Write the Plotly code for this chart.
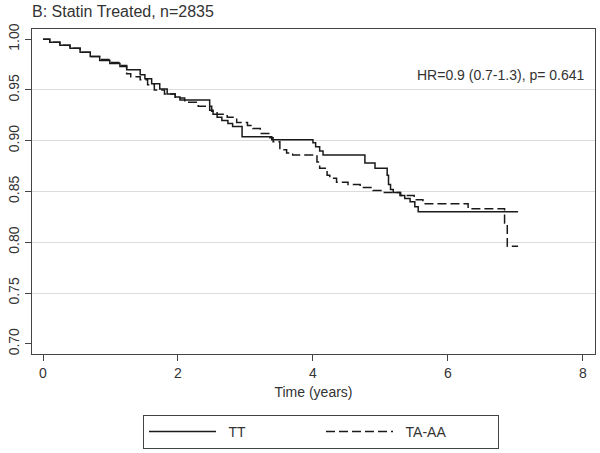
import plotly.graph_objects as go

# Kaplan-Meier step data
tt_time = [0, 0.10, 0.25, 0.40, 0.55, 0.70, 0.84, 0.99, 1.14, 1.24, 1.44, 1.51, 1.61, 1.73, 1.84, 1.96, 2.03,
           2.47, 2.52, 2.58, 2.65, 2.74, 2.81, 2.95, 3.39, 4.00, 4.04, 4.10, 4.15, 4.77, 4.92,
           5.10, 5.12, 5.15, 5.19, 5.29, 5.36, 5.44, 5.51, 5.56, 7.04]
tt_surv = [1.000, 0.997, 0.994, 0.991, 0.987, 0.983, 0.979, 0.976, 0.973, 0.970, 0.965, 0.961, 0.956, 0.951, 0.946, 0.943, 0.940,
           0.930, 0.926, 0.923, 0.920, 0.917, 0.914, 0.904, 0.901, 0.898, 0.894, 0.890, 0.886, 0.878, 0.873,
           0.866, 0.857, 0.852, 0.849, 0.846, 0.843, 0.840, 0.835, 0.830, 0.830]

ta_time = [0, 0.10, 0.25, 0.40, 0.55, 0.70, 0.84, 0.99, 1.14, 1.24, 1.30, 1.44, 1.55, 1.65, 1.80, 1.96, 2.10,
           2.30, 2.50, 2.58, 2.73, 2.87, 3.03, 3.11, 3.22, 3.36, 3.41, 3.51, 3.61, 3.70, 4.06, 4.10,
           4.21, 4.25, 4.35, 4.52, 4.70, 4.89, 5.04, 5.30, 5.50, 5.63, 6.30, 6.84, 6.88, 7.04]
ta_surv = [1.000, 0.997, 0.994, 0.991, 0.987, 0.983, 0.980, 0.977, 0.974, 0.966, 0.963, 0.960, 0.955, 0.950, 0.946, 0.942, 0.938,
           0.934, 0.929, 0.926, 0.923, 0.918, 0.915, 0.912, 0.907, 0.903, 0.899, 0.891, 0.888, 0.886, 0.879, 0.873,
           0.866, 0.863, 0.859, 0.857, 0.854, 0.851, 0.849, 0.846, 0.842, 0.838, 0.833, 0.819, 0.796, 0.796]

x_ticks = [0, 2, 4, 6, 8]
y_ticks = [0.70, 0.75, 0.80, 0.85, 0.90, 0.95, 1.00]
y_grid = [0.75, 0.80, 0.85, 0.90, 0.95]

title_text = "B: Statin Treated, n=2835"
hr_text = "HR=0.9 (0.7-1.3), p= 0.641"
series_names = ["TT", "TA-AA"]

FONT = "Liberation Sans, Arial, sans-serif"
AX = "#444444"
TXT = "#333333"

fig = go.Figure()
fig.add_trace(go.Scatter(x=tt_time, y=tt_surv, mode="lines", name="  " + series_names[0], line_shape="hv",
                         line=dict(color="#1a1a1a", width=1.5)))
fig.add_trace(go.Scatter(x=ta_time, y=ta_surv, mode="lines", name="  " + series_names[1], line_shape="hv",
                         line=dict(color="#1a1a1a", width=1.5, dash="9px,4px")))
# invisible trace on overlay axis for gridlines
fig.add_trace(go.Scatter(x=[None], y=[None], yaxis="y2", showlegend=False, hoverinfo="skip"))

fig.update_layout(
    width=600, height=453,
    margin=dict(l=32, r=5, t=29, b=99),
    paper_bgcolor="white", plot_bgcolor="white",
    font=dict(family=FONT, size=14, color=TXT),
    xaxis=dict(range=[-0.163, 8.18], tickvals=x_ticks, ticktext=[str(v) for v in x_ticks],
               showgrid=False, zeroline=False, showline=True, linecolor=AX, linewidth=1.2,
               mirror=True, ticks="outside", ticklen=6, tickcolor=AX, automargin=False,
               title=dict(text="Time (years)", standoff=7, font=dict(size=14))),
    yaxis=dict(range=[0.690, 1.010], tickvals=y_ticks, ticktext=[f"{v:.2f}" for v in y_ticks],
               tickangle=-90, showgrid=False, zeroline=False, showline=True, linecolor=AX,
               linewidth=1.2, mirror=True, ticks="outside", ticklen=6, tickcolor=AX, automargin=False),
    yaxis2=dict(overlaying="y", matches="y", tickvals=y_grid, showgrid=True, gridcolor="#dcdcdc",
                gridwidth=1, showticklabels=False, ticks="", showline=False, zeroline=False,
                automargin=False),
    legend=dict(orientation="h", xref="container", yref="container",
                x=143/600, xanchor="left", y=1 - 415/453, yanchor="top",
                bordercolor=AX, borderwidth=1, bgcolor="white", itemwidth=67,
                entrywidth=95, entrywidthmode="pixels",
                font=dict(family=FONT, size=14, color=TXT)),
    annotations=[
        dict(text=hr_text, x=8.06, y=0.965, xref="x", yref="y", xanchor="right",
             yanchor="middle", showarrow=False, font=dict(family=FONT, size=14, color=TXT)),
        dict(text=title_text, x=(30-32)/563, y=(354-12)/325, xref="paper", yref="paper",
             xanchor="left", yanchor="middle", showarrow=False,
             font=dict(family=FONT, size=16, color=TXT)),
    ],
)

fig.write_html("out.html", config={"displayModeBar": False},
               post_script="document.body.style.margin='0px';document.body.style.padding='0px';")
